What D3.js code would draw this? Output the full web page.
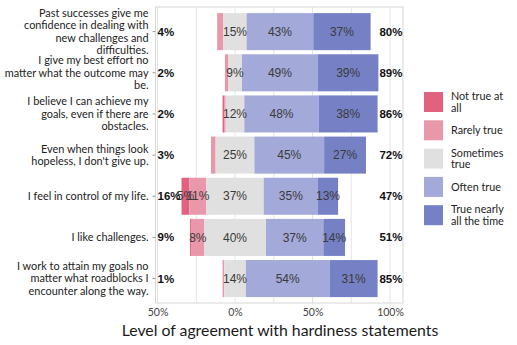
<!DOCTYPE html>
<html><head><meta charset="utf-8">
<script src="https://cdn.jsdelivr.net/npm/d3@7"></script>
<style>body{margin:0;background:#fff}svg{display:block}</style>
</head><body><svg id="c" width="517" height="345"></svg>
<script>
const categories = [
  ["Past successes give me","confidence in dealing with","new challenges and","difficulties."],
  ["I give my best effort no","matter what the outcome may","be."],
  ["I believe I can achieve my","goals, even if there are","obstacles."],
  ["Even when things look","hopeless, I don't give up."],
  ["I feel in control of my life."],
  ["I like challenges."],
  ["I work to attain my goals no","matter what roadblocks I","encounter along the way."]
];
const notTrue   = [0, 0, 1, 0, 5, 1, 0];
const rarely    = [4, 2, 1, 3, 11, 8, 1];
const sometimes = [15, 9, 12, 25, 37, 40, 14];
const often     = [43, 49, 48, 45, 35, 37, 54];
const nearly    = [37, 39, 38, 27, 13, 14, 31];
const negTotals = [4, 2, 2, 3, 16, 9, 1];
const posTotals = [80, 89, 86, 72, 47, 51, 85];
const seriesNames = [["Not true at","all"],["Rarely true"],["Sometimes","true"],["Often true"],["True nearly","all the time"]];
const colors = ["#e2617f","#e997aa","#e0e0e0","#a3a9d8","#7581c4"];
const xTicks = [-0.5, 0, 0.5, 1.0];
const gridTicks = [-0.5,-0.25,0,0.25,0.5,0.75,1.0];
const axisTitle = "Level of agreement with hardiness statements";

const svg = d3.select("#c");
const frame = {l:155.5, r:403, t:7, b:303};
const x = d3.scaleLinear().domain([-0.5, 1.0]).range([157.5, 390]);
const y = d3.scaleBand().domain(d3.range(categories.length)).range([9, 301.2]).paddingInner(0.1).paddingOuter(0.1);

// gridlines
svg.append("g").selectAll("line").data(gridTicks).join("line")
  .attr("x1", d=>x(d)).attr("x2", d=>x(d)).attr("y1", frame.t).attr("y2", frame.b)
  .attr("stroke", "#e4e4e4").attr("stroke-width", 1);
// frame
svg.append("rect").attr("x", frame.l).attr("y", frame.t).attr("width", frame.r-frame.l).attr("height", frame.b-frame.t)
  .attr("fill","none").attr("stroke","#d6d6d6").attr("stroke-width",1);

// bars
const series = [notTrue, rarely, sometimes, often, nearly];
const rows = categories.map((c,i)=>{
  const segs = [];
  let start = -(sometimes[i]/2 + notTrue[i] + rarely[i]);
  series.forEach((s,k)=>{ segs.push({row:i, k, v:s[i], x0:start, x1:start+s[i]}); start += s[i]; });
  return segs;
}).flat();
const bars = svg.append("g");
bars.selectAll("rect").data(rows.filter(d=>d.v>0)).join("rect")
  .attr("x", d=>x(d.x0/100)).attr("width", d=>x(d.x1/100)-x(d.x0/100))
  .attr("y", d=>y(d.row)).attr("height", y.bandwidth())
  .attr("fill", d=>colors[d.k]);
bars.selectAll("text").data(rows.filter(d=>d.v>=5)).join("text")
  .attr("x", d=>x((d.x0+d.x1)/200)).attr("y", d=>y(d.row)+y.bandwidth()/2)
  .attr("dy","0.35em").attr("text-anchor","middle")
  .attr("font-family","'Liberation Sans', Arial, sans-serif").attr("font-size","12px")
  .attr("fill","#3a3a3a").text(d=>d.v+"%");

// totals
svg.append("g").selectAll("text").data(negTotals).join("text")
  .attr("x", 157.5).attr("y", (d,i)=>y(i)+y.bandwidth()/2).attr("dy","0.35em")
  .attr("font-family","'Liberation Sans', Arial, sans-serif").attr("font-size","11.5px").attr("font-weight","bold")
  .attr("fill","#111").text(d=>d+"%");
svg.append("g").selectAll("text").data(posTotals).join("text")
  .attr("x", 402.5).attr("y", (d,i)=>y(i)+y.bandwidth()/2).attr("dy","0.35em").attr("text-anchor","end")
  .attr("font-family","'Liberation Sans', Arial, sans-serif").attr("font-size","11.5px").attr("font-weight","bold")
  .attr("fill","#111").text(d=>d+"%");

// left axis with multi-line category labels
const yAxis = svg.append("g").attr("transform",`translate(${frame.l},0)`)
  .call(d3.axisLeft(y).tickSize(3).tickFormat(""));
yAxis.select(".domain").remove();
yAxis.selectAll(".tick line").attr("stroke","#999");
const lh = 12.6;
yAxis.selectAll(".tick").each(function(d){
  const lines = categories[d];
  const t = d3.select(this).append("text").attr("x",-7).attr("text-anchor","end")
    .attr("font-family","Lato, sans-serif").attr("font-size","10.9px").attr("fill","#222");
  lines.forEach((ln,j)=>{
    t.append("tspan").attr("x",-7).attr("y",(j-(lines.length-1)/2)*lh).attr("dy","0.35em").text(ln);
  });
});

// bottom axis
const xAxis = svg.append("g").attr("transform",`translate(0,${frame.b})`)
  .call(d3.axisBottom(x).tickValues(xTicks).tickSize(0).tickFormat(d=>Math.round(Math.abs(d)*100)+"%"));
xAxis.select(".domain").remove();
xAxis.selectAll("text").attr("font-family","Lato, sans-serif").attr("font-size","10.5px").attr("fill","#444").attr("dy","0.95em");

// axis title
svg.append("text").attr("x",280).attr("y",335.5).attr("text-anchor","middle")
  .attr("font-family","Lato, sans-serif").attr("font-size","15.8px").attr("fill","#1a1a1a").text(axisTitle);

// legend
const lg = svg.append("g");
seriesNames.forEach((nm,i)=>{
  const yy = 92 + i*28.3;
  lg.append("rect").attr("x",424).attr("y",yy).attr("width",19).attr("height",20).attr("fill",colors[i]);
  const t = lg.append("text").attr("font-family","Lato, sans-serif").attr("font-size","10.8px").attr("fill","#222");
  nm.forEach((ln,j)=>{
    t.append("tspan").attr("x",451).attr("y",yy+10+(j-(nm.length-1)/2)*11.5).attr("dy","0.35em").text(ln);
  });
});
</script></body></html>
